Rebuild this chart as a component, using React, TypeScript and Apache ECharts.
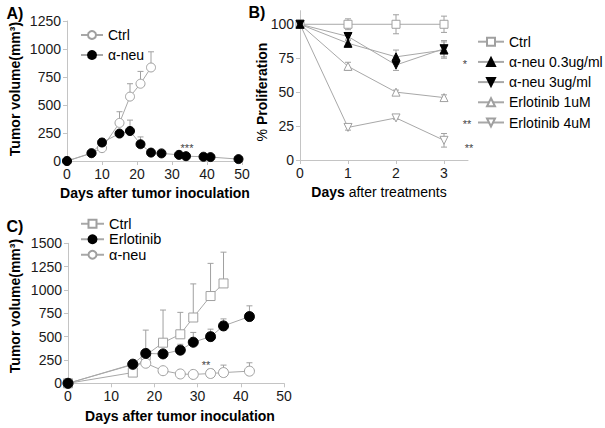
import React, { useEffect, useRef } from "react";
import * as echarts from "echarts";

const FONT = '"Liberation Sans", Arial, sans-serif';
const GRAY = "#a0a0a0";
const LINE = "#a8a8a8";
const AXIS = "#c4c4c4";

// ---- Panel A ----
const aCtrlDays = [0, 7, 10, 15, 18, 21, 24];
const aCtrl = [0, 70, 115, 340, 575, 690, 835];
const aCtrlErrTop = [0, 0, 200, 440, 690, 800, 975];
const aNeuDays = [0, 7, 10, 15, 18, 21, 24, 27, 32, 34, 39, 41, 49];
const aNeu = [0, 70, 165, 245, 268, 150, 75, 68, 55, 43, 38, 35, 17];
const aNeuErrTop = [0, 0, 0, 0, 365, 215, 0, 0, 0, 0, 0, 0, 0];
const aXTicks = [0, 10, 20, 30, 40, 50];
const aYTicks = [0, 250, 500, 750, 1000, 1250];

// ---- Panel B ----
const bDays = [0, 1, 2, 3];
const bCtrl = [100, 100, 100, 100];
const bCtrlErr = [1, 4, 7, 6];
const bNeu03 = [100, 86, 76, 81];
const bNeu03Err = [1, 3, 5, 6];
const bNeu3 = [100, 91, 70, 82];
const bNeu3Err = [1, 3, 4, 6];
const bErl1 = [100, 69, 50, 46];
const bErl1Err = [1, 3, 1.5, 2];
const bErl4 = [100, 24, 31, 14.5];
const bErl4Err = [1, 2, 1, 5];
const bXTicks = [0, 1, 2, 3];
const bYTicks = [0, 25, 50, 75, 100];

// ---- Panel C ----
const cCtrlDays = [0, 15, 18, 22, 26, 29, 33, 36];
const cCtrl = [0, 115, 300, 435, 525, 705, 935, 1070];
const cCtrlErrTop = [0, 0, 570, 785, 760, 1065, 1285, 1405];
const cErlDays = [0, 15, 18, 22, 26, 29, 33, 36, 42];
const cErl = [0, 205, 320, 315, 355, 440, 500, 615, 715];
const cErlErrTop = [0, 0, 0, 0, 418, 545, 580, 690, 830];
const cNeuDays = [0, 15, 18, 22, 26, 29, 33, 36, 42];
const cNeu = [0, 200, 215, 135, 100, 95, 105, 115, 130];
const cNeuErrTop = [0, 0, 0, 0, 0, 0, 150, 195, 220];
const cXTicks = [0, 10, 20, 30, 40, 50];
const cYTicks = [0, 250, 500, 750, 1000, 1250, 1500];

function pts(days: number[], vals: number[]) {
  return days.map((d, i) => [d, vals[i]]);
}
function upErr(days: number[], vals: number[], tops: number[]) {
  return days
    .map((d, i) => [d, vals[i], tops[i]])
    .filter((r) => r[2] > r[1]);
}
function pmErr(days: number[], vals: number[], errs: number[]) {
  return days.map((d, i) => [d, vals[i] - errs[i], vals[i] + errs[i]]);
}

function errSeries(idx: number, data: number[][], twoSided: boolean) {
  return {
    type: "custom",
    xAxisIndex: idx,
    yAxisIndex: idx,
    z: 1,
    silent: true,
    encode: { x: 0, y: [1, 2] },
    data,
    renderItem: (_p: any, api: any) => {
      const x = api.value(0);
      const lo = api.coord([x, api.value(1)]);
      const hi = api.coord([x, api.value(2)]);
      const w = 3;
      const st = { stroke: GRAY, lineWidth: 1 };
      const children: any[] = [
        { type: "line", shape: { x1: lo[0], y1: lo[1], x2: hi[0], y2: hi[1] }, style: st },
        { type: "line", shape: { x1: hi[0] - w, y1: hi[1], x2: hi[0] + w, y2: hi[1] }, style: st },
      ];
      if (twoSided) {
        children.push({ type: "line", shape: { x1: lo[0] - w, y1: lo[1], x2: lo[0] + w, y2: lo[1] }, style: st });
      }
      return { type: "group", children };
    },
  };
}

const openStyle = { color: "#fff", borderColor: GRAY, borderWidth: 1 };
const filledStyle = { color: "#000", borderColor: "#000", borderWidth: 1 };

function lineSeries(idx: number, name: string, data: number[][], symbol: string, size: number, filled: boolean, rotate = 0) {
  return {
    type: "line",
    name,
    xAxisIndex: idx,
    yAxisIndex: idx,
    data,
    symbol,
    symbolSize: size,
    symbolRotate: rotate,
    showAllSymbol: true,
    z: 3,
    lineStyle: { color: LINE, width: 1 },
    itemStyle: filled ? filledStyle : openStyle,
  };
}

function axis(min: number, max: number, ticks: number[], interval: number) {
  return {
    type: "value",
    min,
    max,
    interval,
    axisLine: { show: true, onZero: false, lineStyle: { color: AXIS, width: 1 } },
    axisTick: { show: true, length: 4, customValues: ticks, lineStyle: { color: AXIS } },
    axisLabel: {
      color: "#1a1a1a",
      fontSize: 14,
      fontFamily: FONT,
      margin: 6,
      customValues: ticks,
      formatter: (v: number) => String(v),
    },
    splitLine: { show: false },
  };
}

function txt(x: number, y: number, text: string, opts: any = {}) {
  return {
    type: "text",
    x,
    y,
    rotation: opts.rotation || 0,
    style: {
      text,
      fill: opts.fill || "#000",
      fontSize: opts.fontSize || 14,
      fontWeight: opts.fontWeight || "normal",
      fontFamily: FONT,
      align: opts.align || "center",
      verticalAlign: "middle",
      rich: opts.rich,
    },
  };
}

export default function App() {
  const ref = useRef<HTMLDivElement>(null);
  useEffect(() => {
    if (!ref.current) return;
    const chart = echarts.init(ref.current, undefined, { renderer: "svg" });
    const legendText = { color: "#000", fontSize: 14, fontFamily: FONT, lineHeight: 14 };
    const option: any = {
      animation: false,
      backgroundColor: "#fff",
      grid: [
        { left: 67, top: 21, width: 175, height: 140 },
        { left: 300, top: 10.7, width: 168, height: 149.3 },
        { left: 68, top: 243.3, width: 216, height: 140 },
      ],
      xAxis: [
        { ...axis(0, 50, aXTicks, 10), gridIndex: 0 },
        { ...axis(0, 3.5, bXTicks, 1), gridIndex: 1 },
        { ...axis(0, 50, cXTicks, 10), gridIndex: 2 },
      ],
      yAxis: [
        { ...axis(0, 1250, aYTicks, 250), gridIndex: 0 },
        { ...axis(0, 110, bYTicks, 25), gridIndex: 1 },
        { ...axis(0, 1500, cYTicks, 250), gridIndex: 2 },
      ],
      legend: [
        {
          data: ["Ctrl", "α-neu"],
          orient: "vertical",
          left: 80,
          top: 28,
          padding: 0,
          itemWidth: 22,
          itemHeight: 10,
          itemGap: 6,
          textStyle: legendText,
        },
        {
          data: ["Ctrl ", "α-neu 0.3ug/ml", "α-neu 3ug/ml", "Erlotinib 1uM", "Erlotinib 4uM"],
          orient: "vertical",
          left: 477,
          top: 34.7,
          padding: 0,
          itemWidth: 26,
          itemHeight: 10,
          itemGap: 6.2,
          textStyle: legendText,
        },
        {
          data: ["Ctrl  ", "Erlotinib", "α-neu  "],
          orient: "vertical",
          left: 80,
          top: 216,
          padding: 0,
          itemWidth: 23,
          itemHeight: 10,
          itemGap: 0,
          textStyle: { ...legendText, fontSize: 14.5, lineHeight: 15.5 },
        },
      ],
      series: [
        // A
        errSeries(0, upErr(aCtrlDays, aCtrl, aCtrlErrTop), false),
        errSeries(0, upErr(aNeuDays, aNeu, aNeuErrTop), false),
        lineSeries(0, "Ctrl", pts(aCtrlDays, aCtrl), "circle", 9, false),
        lineSeries(0, "α-neu", pts(aNeuDays, aNeu), "circle", 9, true),
        // B
        errSeries(1, pmErr(bDays, bCtrl, bCtrlErr), true),
        errSeries(1, pmErr(bDays, bNeu03, bNeu03Err), true),
        errSeries(1, pmErr(bDays, bNeu3, bNeu3Err), true),
        errSeries(1, pmErr(bDays, bErl1, bErl1Err), true),
        errSeries(1, pmErr(bDays, bErl4, bErl4Err), true),
        lineSeries(1, "Ctrl ", pts(bDays, bCtrl), "rect", 8, false),
        lineSeries(1, "Erlotinib 1uM", pts(bDays, bErl1), "triangle", 8, false),
        lineSeries(1, "Erlotinib 4uM", pts(bDays, bErl4), "triangle", 8, false, 180),
        lineSeries(1, "α-neu 0.3ug/ml", pts(bDays, bNeu03), "triangle", 8, true),
        lineSeries(1, "α-neu 3ug/ml", pts(bDays, bNeu3), "triangle", 8, true, 180),
        // C
        errSeries(2, upErr(cCtrlDays, cCtrl, cCtrlErrTop), false),
        errSeries(2, upErr(cErlDays, cErl, cErlErrTop), false),
        errSeries(2, upErr(cNeuDays, cNeu, cNeuErrTop), false),
        lineSeries(2, "Ctrl  ", pts(cCtrlDays, cCtrl), "rect", 9, false),
        lineSeries(2, "α-neu  ", pts(cNeuDays, cNeu), "circle", 10, false),
        lineSeries(2, "Erlotinib", pts(cErlDays, cErl), "circle", 10, true),
      ],
      graphic: [
        txt(15, 13, "A)", { fontSize: 16, fontWeight: "bold" }),
        txt(257, 12, "B)", { fontSize: 16, fontWeight: "bold" }),
        txt(15, 226, "C)", { fontSize: 16, fontWeight: "bold" }),
        txt(15, 89, "Tumor volume(mm³)", { fontWeight: "bold", rotation: Math.PI / 2 }),
        txt(155, 193, "Days after tumor inoculation", { fontWeight: "bold" }),
        txt(262, 92, "{a|%} {b|Proliferation}", {
          rotation: Math.PI / 2,
          rich: {
            a: { fontSize: 14, fontFamily: FONT, fontWeight: "normal", fill: "#000" },
            b: { fontSize: 14, fontFamily: FONT, fontWeight: "bold", fill: "#000" },
          },
        }),
        txt(379, 192, "{b|Days} {a|after treatments}", {
          rich: {
            a: { fontSize: 14, fontFamily: FONT, fontWeight: "normal", fill: "#000" },
            b: { fontSize: 14, fontFamily: FONT, fontWeight: "bold", fill: "#000" },
          },
        }),
        txt(15, 306, "Tumor volume(mm³)", { fontWeight: "bold", rotation: Math.PI / 2 }),
        txt(180, 416, "Days after tumor inoculation", { fontWeight: "bold" }),
        txt(187, 148, "***", { fontSize: 11, fill: "#444" }),
        txt(465, 64, "*", { fontSize: 11, fill: "#444" }),
        txt(467, 124, "**", { fontSize: 11, fill: "#444" }),
        txt(469, 148, "**", { fontSize: 11, fill: "#444" }),
        txt(206, 365, "**", { fontSize: 11, fill: "#444" }),
      ],
    };
    chart.setOption(option);
    return () => chart.dispose();
  }, []);
  return <div ref={ref} style={{ width: 605, height: 428, position: "absolute", left: 0, top: 0 }} />;
}
